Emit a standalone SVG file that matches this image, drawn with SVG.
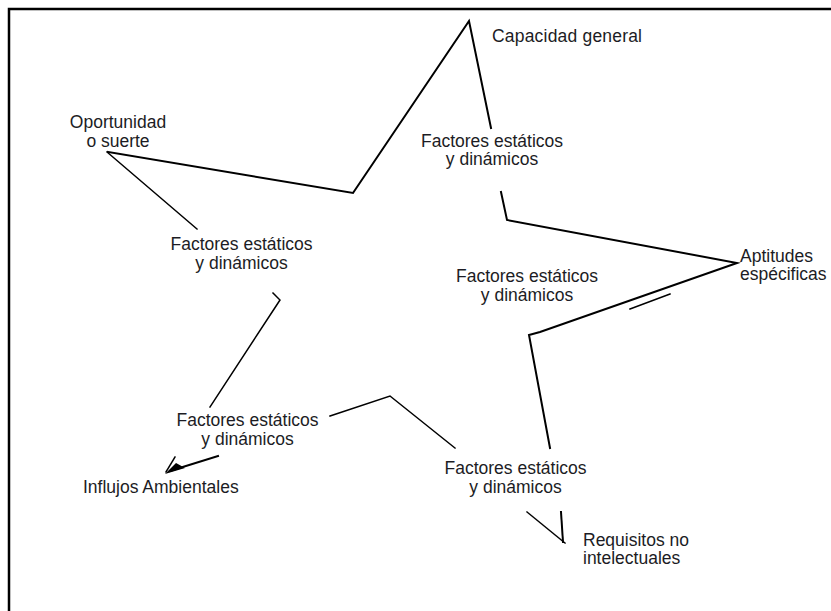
<svg xmlns="http://www.w3.org/2000/svg" width="831" height="611" viewBox="0 0 831 611">
<style>
.t{font-family:"Liberation Sans",Arial,sans-serif;font-size:17.5px;fill:#1c1c24}
.c{text-anchor:middle}
.s{fill:none;stroke:#000;stroke-width:2;stroke-linejoin:miter;stroke-linecap:square}
.th{stroke-width:1.5}
</style>
<rect x="0" y="0" width="831" height="611" fill="#fff"/>
<g id="frame" fill="none" stroke="#000" stroke-width="2.5">
<path d="M9,611 V9 H831"/>
</g>
<g id="connectors">
<polyline class="s" points="108,152 353,193 469,21 491,128"/>
<polyline class="s" points="501,192 507,220 737,263 540,332 529,335 550,448"/>
<polyline class="s th" points="630,309 670,294"/>
<polyline class="s th" points="107,152 197,229"/>
<polyline class="s th" points="273,293 280,300 210,407"/>
<polyline class="s th" points="330,416 390,396 455,448"/>
<polyline class="s th" points="527,512 565,543"/>
<polyline class="s" points="561,512 563,542"/>
<polyline class="s" points="218,456 170,471"/>
<polygon points="165,474 176,463 185,468" fill="#000"/>
<polyline class="s th" points="166,472 175,457"/>
</g>
<g id="n-capacidad"><text class="t" x="492" y="42" textLength="150">Capacidad general</text></g>
<g id="n-oportunidad"><text class="t c" x="118" y="128">Oportunidad</text><text class="t c" x="118" y="147">o suerte</text></g>
<g id="n-factores1"><text class="t c" x="241.5" y="250">Factores estáticos</text><text class="t c" x="241.5" y="268.5">y dinámicos</text></g>
<g id="n-factores2"><text class="t c" x="492" y="146.5">Factores estáticos</text><text class="t c" x="492" y="165">y dinámicos</text></g>
<g id="n-factores3"><text class="t c" x="527" y="282">Factores estáticos</text><text class="t c" x="527" y="300.5">y dinámicos</text></g>
<g id="n-aptitudes"><text class="t" x="740" y="261.5">Aptitudes</text><text class="t" x="740" y="280">espécificas</text></g>
<g id="n-factores4"><text class="t c" x="247.5" y="426">Factores estáticos</text><text class="t c" x="247.5" y="444.5">y dinámicos</text></g>
<g id="n-influjos"><text class="t" x="83" y="493">Influjos Ambientales</text></g>
<g id="n-factores5"><text class="t c" x="515.5" y="474">Factores estáticos</text><text class="t c" x="515.5" y="493">y dinámicos</text></g>
<g id="n-requisitos"><text class="t" x="583" y="545.5">Requisitos no</text><text class="t" x="583" y="564">intelectuales</text></g>
</svg>
